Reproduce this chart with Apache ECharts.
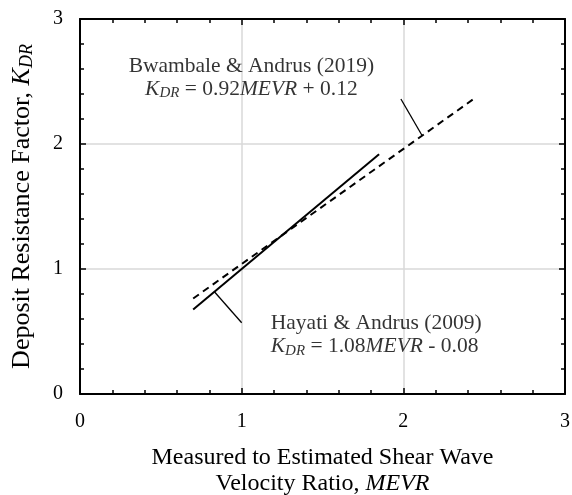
<!DOCTYPE html>
<html lang="en">

<head>
    <meta charset="UTF-8">
    <script src="https://cdnjs.cloudflare.com/ajax/libs/echarts/6.0.0/echarts.min.js"></script>
    <title>Deposit Resistance Factor</title>
    <style>
        body { margin: 0; background: #fff; }
    </style>
</head>

<body>
    <div id="main" style="width: 572px;height:495px;"></div>
</body>
<script>
    // tick values on both axes
    var ticks = [0, 1, 2, 3];

    // Hayati & Andrus (2009): KDR = 1.08 MEVR - 0.08
    var hayatiX = [0.70, 1.85];
    var hayatiY = [0.676, 1.918];

    // Bwambale & Andrus (2019): KDR = 0.92 MEVR + 0.12
    var bwambaleX = [0.70, 2.45];
    var bwambaleY = [0.764, 2.374];

    // leader lines from the equations to the curves
    var hayatiLeaderX = [0.83, 1.0];
    var hayatiLeaderY = [0.82, 0.57];
    var bwambaleLeaderX = [1.985, 2.115];
    var bwambaleLeaderY = [2.36, 2.07];

    // where the equation labels sit
    var bwambaleLabelAt = [1.06, 2.53];
    var hayatiLabelAt = [1.18, 0.47];

    function pairs(xs, ys) {
        return xs.map(function (x, i) { return [x, ys[i]]; });
    }

    var font = 'Liberation Serif';

    function richStyles(size, lh, align) {
        var base = { fontFamily: font, fontSize: size, lineHeight: lh, color: '#000', align: align, textBorderWidth: 0 };
        return {
            n: Object.assign({}, base),
            i: Object.assign({}, base, { fontStyle: 'italic' }),
            s: Object.assign({}, base, {
                fontStyle: 'italic', fontSize: Math.round(size * 0.68),
                lineHeight: Math.round(size * 0.68), verticalAlign: 'bottom'
            })
        };
    }

    function axisDef(pos, labels) {
        return {
            type: 'value', position: pos, min: ticks[0], max: ticks[ticks.length - 1], interval: 1,
            axisLine: { show: true, onZero: false, lineStyle: { color: '#000', width: 2 } },
            axisTick: { show: true, inside: true, length: 6, lineStyle: { color: '#000', width: 1.5 } },
            minorTick: { show: true, splitNumber: 5, length: 4, lineStyle: { color: '#000', width: 1.5 } },
            splitLine: { show: labels, lineStyle: { color: '#d9d9d9', width: 1.5 } },
            axisLabel: { show: labels, margin: 18, fontFamily: font, fontSize: 20, color: '#000' }
        };
    }

    var xMain = axisDef('bottom', true);
    xMain.name = '{n|Measured to Estimated Shear Wave}\n{n|Velocity Ratio, }{i|MEVR}';
    xMain.nameLocation = 'middle';
    xMain.nameGap = 51;
    xMain.nameTextStyle = { rich: richStyles(24, 26, 'center') };

    var yMain = axisDef('left', true);
    yMain.axisLabel.margin = 17;
    yMain.name = '{n|Deposit Resistance Factor, }{i|K}{s|DR}';
    yMain.nameLocation = 'middle';
    yMain.nameGap = 44;
    yMain.nameTextStyle = { rich: richStyles(26, 28, 'left') };

    var myChart = echarts.init(document.getElementById('main'));

    function lineSeries(xs, ys, width, dash) {
        return {
            type: 'line', data: pairs(xs, ys), symbol: 'none', silent: true,
            lineStyle: { color: '#000', width: width, type: dash || 'solid' }
        };
    }

    function labelSeries(at, text, align) {
        return {
            type: 'scatter', data: [at], symbolSize: 0, silent: true,
            label: {
                show: true, position: 'inside', formatter: text,
                align: align, verticalAlign: 'middle', textBorderWidth: 0,
                rich: richStyles(21.5, 23, align)
            }
        };
    }

    var option = {
        animation: false,
        grid: { left: 80, right: 7, top: 19, bottom: 101, containLabel: false, outerBoundsMode: 'none' },
        xAxis: [xMain, axisDef('top', false)],
        yAxis: [yMain, axisDef('right', false)],
        series: [
            lineSeries(hayatiX, hayatiY, 2),
            lineSeries(bwambaleX, bwambaleY, 2, [7, 5]),
            lineSeries(hayatiLeaderX, hayatiLeaderY, 1.3),
            lineSeries(bwambaleLeaderX, bwambaleLeaderY, 1.3),
            labelSeries(bwambaleLabelAt,
                '{n|Bwambale & Andrus (2019)}\n{i|K}{s|DR}{n| = 0.92}{i|MEVR}{n| + 0.12}', 'center'),
            labelSeries(hayatiLabelAt,
                '{n|Hayati & Andrus (2009)}\n{i|K}{s|DR}{n| = 1.08}{i|MEVR}{n| - 0.08}', 'left')
        ]
    };
    myChart.setOption(option);
</script>

</html>
